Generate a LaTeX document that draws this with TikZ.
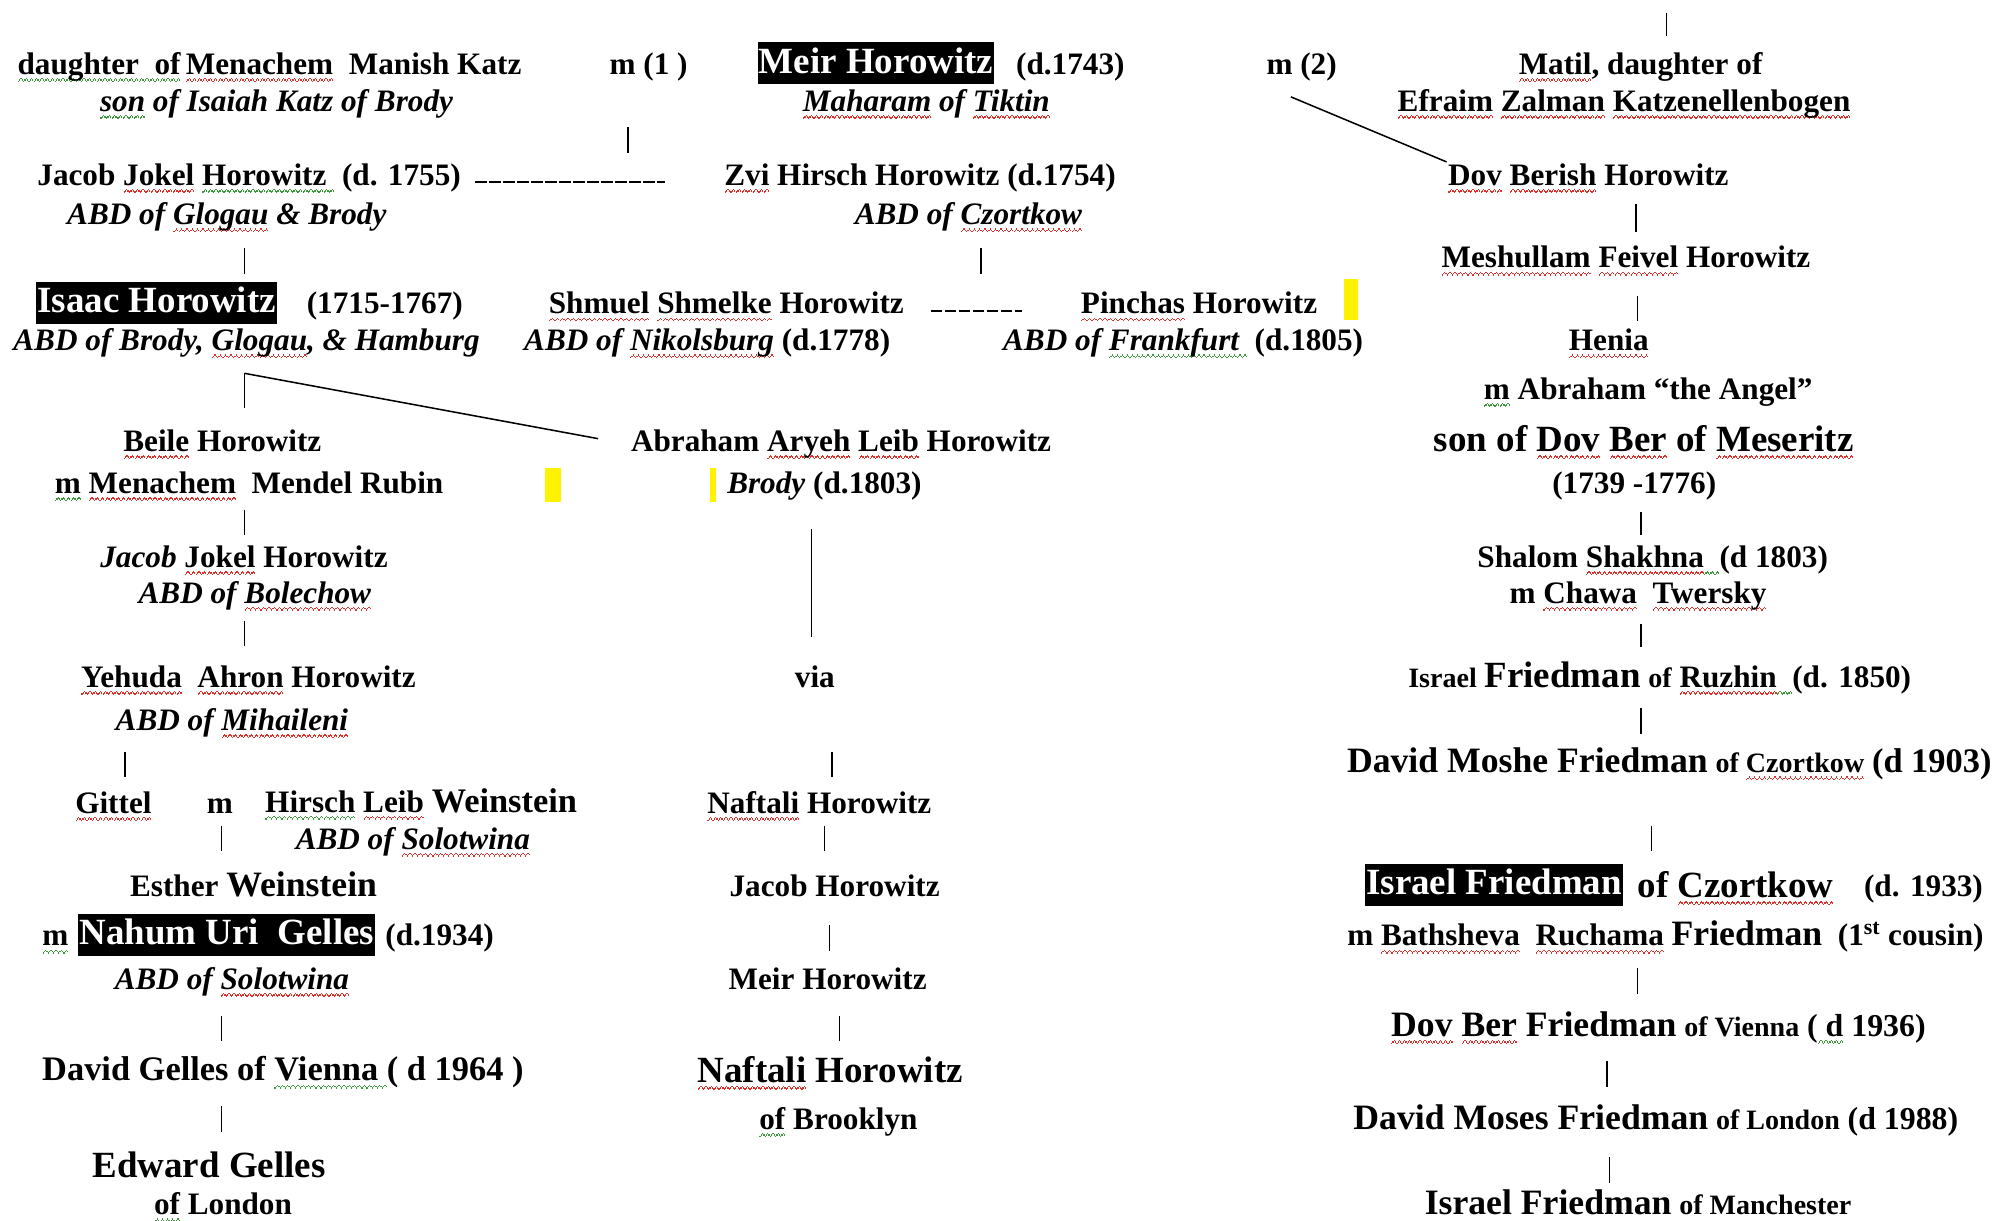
\documentclass[tikz,border=0pt]{standalone}
\usepackage{fontspec}
\setmainfont{Liberation Serif}
\usepackage{xcolor}
\definecolor{spRed}{HTML}{E0302A}
\definecolor{spGreen}{HTML}{3C9A3C}
\definecolor{hlYellow}{HTML}{FFF200}
% spell-check squiggles, built from small rules
\newsavebox\sqbox
\newcommand\wavebit{\rule[-6pt]{1pt}{1.1pt}\rule[-5pt]{1pt}{1.1pt}\rule[-4pt]{1pt}{1.1pt}\rule[-5pt]{1pt}{1.1pt}}
\newcommand\sq[2]{\sbox\sqbox{#2}\leavevmode\rlap{\hbox to \wd\sqbox{\color{#1}\xleaders\hbox{\wavebit}\hfill}}\usebox\sqbox}
\newcommand\rw[1]{\sq{spRed}{#1}}
\newcommand\gw[1]{\sq{spGreen}{#1}}
% type sizes
\newcommand\nmsz{\bfseries\fontsize{24.5}{28}\selectfont}
\newcommand\bigsz{\bfseries\fontsize{29}{32}\selectfont}
\newcommand\smsz{\bfseries\fontsize{22}{25}\selectfont}
\newcommand\fsz[2]{{\fontsize{#1}{#1}\selectfont #2}}

\begin{document}
\begin{tikzpicture}[x=1pt,y=-1pt]
    \tikzset{
        nm/.style={font=\nmsz, inner sep=1pt, anchor=mid, yshift=-6pt},
        rl/.style={font=\nmsz\itshape, inner sep=1pt, anchor=mid, yshift=-6pt},
        bg/.style={font=\bigsz, inner sep=1pt, anchor=mid, yshift=-7pt},
        hl/.style={font=\bigsz, fill=black, text=white, inner xsep=1pt, inner ysep=3pt,
            text height=21pt, text depth=6pt, anchor=mid, yshift=-5pt},
        bar/.style={line width=1.2pt},
        dashline/.style={line width=1.8pt, dash pattern=on 9pt off 2pt},
    }
    \path[fill=white] (0,0) rectangle (1568,958);
    \useasboundingbox (0,0) rectangle (1568,958);

    % top rows
    \node[nm] (dau) at (211.5,50) {\gw{daughter\ \ of}\,\rw{Menachem}\ \ Manish Katz};
    \node[nm] (m1) at (509,50) {m (1 )};
    \node[hl] (meir) at (687.5,50) {Meir Horowitz};
    \node[nm] (meirD) at (840,50) {(d.1743)};
    \node[nm] (m2) at (1021.5,50) {m (2)};
    \node[nm] (matil) at (1287.5,50) {\rw{Matil}, daughter of};
    \node[rl] (son) at (217,79) {\gw{son} of Isaiah Katz of Brody};
    \node[rl] (tiktin) at (727,79) {\rw{Maharam} of \rw{Tiktin}};
    \node[nm] (efraim) at (1274.5,79) {\rw{Efraim} \rw{Zalman} \rw{Katzenellenbogen}};

    \node[nm] (jacob) at (195.5,137) {Jacob \rw{Jokel} \gw{Horowitz\ }\ (d. 1755)};
    \node[nm] (zvi) at (722,137) {\rw{Zvi} Hirsch Horowitz (d.1754)};
    \node[nm] (dov) at (1246.5,137) {\rw{Dov} \rw{Berish} Horowitz};
    \node[rl] (glogau) at (178,168) {ABD of \rw{Glogau} \& Brody};
    \node[rl] (czort) at (760,168) {ABD of \rw{Czortkow}};
    \node[nm] (feivel) at (1276,202) {\rw{Meshullam} \rw{Feivel} Horowitz};

    \node[hl] (isaac) at (123,238) {Isaac Horowitz};
    \node[nm] (isaacD) at (302,238) {(1715-1767)};
    \node[nm] (shmuel) at (570,238) {\rw{Shmuel} \rw{Shmelke} Horowitz};
    \node[nm] (pinchas) at (941,238) {\rw{Pinchas} Horowitz};
    \node[rl] (hamburg) at (193.5,267) {ABD of Brody, \rw{Glogau}, \& Hamburg};
    \node[rl] (nikols) at (555,267) {ABD of \rw{Nikolsburg} {\upshape (d.1778)}};
    \node[rl] (frank) at (928.5,267) {ABD of \gw{Frankfurt\ }\ {\upshape (d.1805)}};
    \node[nm] (henia) at (1262.5,267) {\rw{Henia}};
    \node[nm] (angel) at (1293.5,305) {\gw{m} Abraham “the Angel”};

    % middle rows
    \node[nm] (beile) at (174.5,346) {\rw{Beile} Horowitz};
    \node[nm] (abraham) at (660,346) {Abraham \rw{Aryeh} \rw{Leib} Horowitz};
    \node[bg] (dovber) at (1290,345) {son of \rw{Dov} \rw{Ber} of \rw{Meseritz}};
    \node[nm] (rubin) at (195.5,379) {\gw{m} \rw{Menachem}\ \ Mendel Rubin};
    \node[nm] (abrbrody) at (647,379) {\textit{Brody} (d.1803)};
    \node[nm] (years) at (1282.5,379) {(1739 -1776)};
    \node[nm] (jacob2) at (191.5,437) {\textit{Jacob} \rw{Jokel} Horowitz};
    \node[nm] (shalom) at (1297,437) {Shalom \rw{Shakhna}\gw{\ \ }(d 1803)};
    \node[rl] (bolechow) at (200,465) {ABD of \rw{Bolechow}};
    \node[nm] (chawa) at (1285.5,465) {m \rw{Chawa}\ \ \rw{Twersky}};
    \node[nm] (yehuda) at (195,531) {\rw{Yehuda}\ \ \rw{Ahron} Horowitz};
    \node[nm] (via) at (639.5,531) {via};
    \node[nm] (ruzhin) at (1302.5,531) {{\smsz Israel} {\bigsz Friedman} {\smsz of} \rw{Ruzhin}\gw{\ \ }(d. 1850)};
    \node[rl] (mihail) at (182,565) {ABD of \rw{Mihaileni}};
    \node[nm] (moshe) at (1310,598) {\fsz{28}{David Moshe Friedman} {\smsz of \rw{Czortkow}} \fsz{27}{(d 1903)}};

    % lower rows
    \node[nm] (gittel) at (89,630) {\rw{Gittel}};
    \node[nm] (mg) at (172.5,630) {m};
    \node[nm] (hirsch) at (330.5,629) {\gw{Hirsch} \rw{Leib} \fsz{27}{Weinstein}};
    \node[nm] (naftali) at (643,630) {\rw{Naftali} Horowitz};
    \node[rl] (solot) at (324,658) {ABD of \rw{Solotwina}};
    \node[nm] (esther) at (199,695) {Esther \fsz{28}{Weinstein}};
    \node[nm] (jacobh) at (655,695) {Jacob Horowitz};
    \node[hl] (israel) at (1172.5,695) {Israel Friedman};
    \node[bg] (ofcz) at (1362,695) {of \rw{Czortkow}};
    \node[nm] (d1933) at (1509.5,695) {(d. 1933)};
    \node[nm] (mn) at (43.5,734) {\gw{m}};
    \node[hl] (nahum) at (178,734) {Nahum Uri\ \ Gelles};
    \node[nm] (d1934) at (345,734) {(d.1934)};
    \node[nm] (bathsheva) at (1307,734) {m \rw{Bathsheva}\ \ \rw{Ruchama} \fsz{28}{Friedman}\ \ (1\textsuperscript{st} cousin)};
    \node[rl] (solot2) at (182,768) {ABD of \rw{Solotwina}};
    \node[nm] (meirh) at (649.5,768) {Meir Horowitz};
    \node[nm] (vienna) at (1301.5,805) {\fsz{28}{\rw{Dov} \rw{Ber} Friedman} {\smsz of Vienna} \fsz{25}{(\gw{\ d} 1936)}};
    \node[nm] (davidg) at (222,840) {\fsz{27}{David Gelles of \gw{Vienna\ }( d 1964 )}};
    \node[bg] (naftali2) at (651.5,840) {\rw{Naftali} Horowitz};
    \node[nm] (brooklyn) at (658,878) {\gw{of} Brooklyn};
    \node[nm] (moses) at (1299.5,878) {\fsz{28}{David Moses Friedman} {\smsz of London} \fsz{25}{(d 1988)}};
    \node[bg] (edward) at (164,915) {Edward Gelles};
    \node[nm] (london) at (175,945) {\gw{of} London};
    \node[nm] (manchester) at (1285.5,945) {\fsz{28}{Israel Friedman} {\smsz of Manchester}};

    % yellow marks
    \fill[hlYellow] (1055,219) rectangle (1066,251);
    \fill[hlYellow] (428,367) rectangle (440,394);
    \fill[hlYellow] (557,367) rectangle (562,394);

    % descent bars
    \foreach \n/\x/\ya/\yb in {b1/1308/10/28, b2/493/100/120, b3/1284/160/182,
        b4/192/195/215, b5/770/195/215, b6/1285/232/252, b7/192/293/320,
        b8/192/400/420, b9/1288/402/420, b10/637/415/500, b11/192/487/507,
        b12/1288/490/508, b13/1288/556/576, b14/98/590/610, b15/653/590/610,
        b16/174/648/668, b17/647/648/668, b18/1296/648/668, b19/651/726/746,
        b20/1285/760/780, b21/174/797/817, b22/659/797/817, b23/1261/833/853,
        b24/174/868/888, b25/1263/908/928}{
        \coordinate (\n-t) at (\x,\ya);
        \coordinate (\n-b) at (\x,\yb);
        \draw[bar] (\n-t) -- (\n-b);
    }

    % marriages and cross links
    \draw[dashline, shorten <=10pt, shorten >=45pt] (jacob.mid east) -- (zvi.mid west);
    \draw[dashline, shorten <=20pt, shorten >=45pt] (shmuel.mid east) -- (pinchas.mid west);
    \draw[bar, shorten >=25pt] (b7-t) -- (abraham.west);
    \coordinate (m2foot) at (1013,76);
    \draw[bar] (m2foot) -- (dov.north west);
\end{tikzpicture}
\end{document}
